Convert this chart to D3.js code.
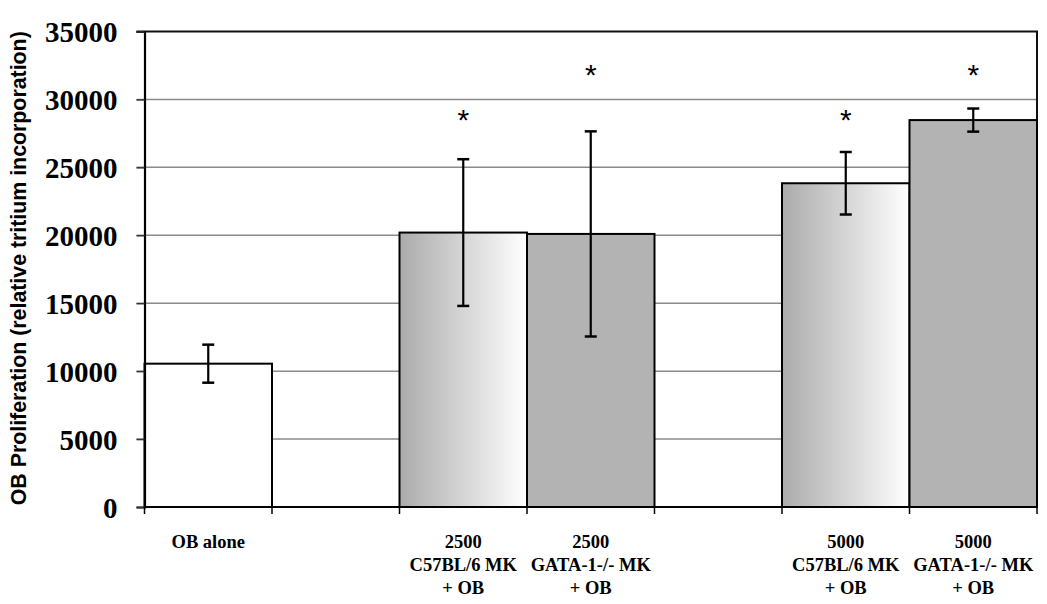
<!DOCTYPE html>
<html>
<head>
<meta charset="utf-8">
<script src="https://cdn.jsdelivr.net/npm/d3@7"></script>
<style>
  body { margin: 0; background: #fff; }
</style>
</head>
<body>
<div id="chart"></div>
<script>
// chart values
var categories = ["OB alone", "", "2500 C57", "2500 GATA", "", "5000 C57", "5000 GATA"];
var labelLines = [["OB alone"], [], ["2500", "C57BL/6 MK", "+ OB"], ["2500", "GATA-1-/- MK", "+ OB"], [],
                  ["5000", "C57BL/6 MK", "+ OB"], ["5000", "GATA-1-/- MK", "+ OB"]];
var means  = [10550, null, 20200, 20100, null, 23830, 28480];
var errors = [1400, null, 5400, 7550, null, 2300, 850];
var fills  = ["white", null, "grad", "gray", null, "grad", "gray"];
var stars  = [null, null, 28700, 32000, null, 28700, 32000];
var yTicks = [0, 5000, 10000, 15000, 20000, 25000, 30000, 35000];

var WIDTH = 1047, HEIGHT = 604;
// note: "top" is a reserved window property, so use plot* names
var plotLeft = 144.5, plotRight = 1037, plotTop = 31.5, plotBottom = 507;

var svg = d3.select("#chart").append("svg")
    .attr("width", WIDTH)
    .attr("height", HEIGHT);

var defs = svg.append("defs");
var grad = defs.append("linearGradient").attr("id", "barGrad")
    .attr("x1", "0%").attr("x2", "100%").attr("y1", "0%").attr("y2", "0%");
grad.append("stop").attr("offset", "0%").attr("stop-color", "#ababab");
grad.append("stop").attr("offset", "100%").attr("stop-color", "#ffffff");

var x = d3.scaleBand().domain(d3.range(categories.length)).range([plotLeft, plotRight]).padding(0);
var y = d3.scaleLinear().domain([0, 35000]).range([plotBottom, plotTop]);

// gridlines
svg.selectAll(".grid").data(yTicks.filter(function (d) { return d > 0 && d < 35000; }))
  .enter().append("line")
    .attr("x1", plotLeft - 8).attr("x2", plotRight)
    .attr("y1", function (d) { return y(d); }).attr("y2", function (d) { return y(d); })
    .attr("stroke", "#8a8a8a").attr("stroke-width", 1.5);

// top and right border
svg.append("path")
    .attr("d", "M" + (plotLeft - 8) + "," + plotTop + "H" + plotRight + "V" + plotBottom)
    .attr("fill", "none").attr("stroke", "#111").attr("stroke-width", 2);

// bars
var idx = d3.range(categories.length).filter(function (i) { return means[i] != null; });
svg.selectAll(".bar").data(idx).enter().append("rect")
    .attr("x", function (i) { return x(i); })
    .attr("width", x.bandwidth())
    .attr("y", function (i) { return y(means[i]); })
    .attr("height", function (i) { return y(0) - y(means[i]); })
    .attr("fill", function (i) {
        return fills[i] == "grad" ? "url(#barGrad)" : (fills[i] == "gray" ? "#b3b3b3" : "#fff");
    })
    .attr("stroke", "#000").attr("stroke-width", 2);

// error bars
var cx = function (i) { return x(i) + x.bandwidth() / 2; };
idx.forEach(function (i) {
    var g = svg.append("g").attr("stroke", "#000").attr("stroke-width", 2.2);
    g.append("line").attr("x1", cx(i)).attr("x2", cx(i))
        .attr("y1", y(means[i] + errors[i])).attr("y2", y(means[i] - errors[i]));
    [means[i] + errors[i], means[i] - errors[i]].forEach(function (v) {
        g.append("line").attr("x1", cx(i) - 6).attr("x2", cx(i) + 6)
            .attr("y1", y(v)).attr("y2", y(v)).attr("stroke-width", 2.5);
    });
});

// asterisks
svg.selectAll(".star").data(idx.filter(function (i) { return stars[i] != null; }))
  .enter().append("text")
    .attr("x", function (i) { return cx(i); })
    .attr("y", function (i) { return y(stars[i]) + 13; })
    .attr("text-anchor", "middle")
    .style("font-family", "'Liberation Sans', Arial, sans-serif")
    .style("font-size", "30px")
    .text("*");

// axes
var yAxis = svg.append("g").attr("transform", "translate(" + plotLeft + ",0)")
    .call(d3.axisLeft(y).tickValues(yTicks).tickSize(8).tickFormat(d3.format("d")));
yAxis.select(".domain").attr("stroke", "#000").attr("stroke-width", 2.2);
yAxis.selectAll(".tick line").attr("stroke", "#333").attr("stroke-width", 1.5);
yAxis.selectAll("text")
    .attr("x", -27).attr("dy", "0.36em")
    .style("font-family", "'Liberation Serif', 'Times New Roman', serif")
    .style("font-weight", "bold").style("font-size", "29px").attr("fill", "#000");

var xAxis = svg.append("g").attr("transform", "translate(0," + plotBottom + ")");
xAxis.append("line").attr("x1", plotLeft).attr("x2", plotRight)
    .attr("stroke", "#000").attr("stroke-width", 2.2);
xAxis.selectAll(".xt").data(d3.range(categories.length + 1)).enter().append("line")
    .attr("x1", function (i) { return plotLeft + i * x.bandwidth(); })
    .attr("x2", function (i) { return plotLeft + i * x.bandwidth(); })
    .attr("y1", 0).attr("y2", 7)
    .attr("stroke", "#000").attr("stroke-width", 1.5);

// category labels
d3.range(categories.length).forEach(function (i) {
    var t = svg.append("text")
        .attr("text-anchor", "middle")
        .style("font-family", "'Liberation Serif', 'Times New Roman', serif")
        .style("font-weight", "bold").style("font-size", "18.5px");
    labelLines[i].forEach(function (s, k) {
        t.append("tspan").attr("x", cx(i)).attr("y", 548 + k * 23).text(s);
    });
});

// y axis title
svg.append("text")
    .attr("transform", "translate(26," + ((plotTop + plotBottom) / 2 - 1) + ") rotate(-90)")
    .attr("text-anchor", "middle")
    .attr("textLength", 474).attr("lengthAdjust", "spacingAndGlyphs")
    .style("font-family", "'Liberation Sans', Arial, sans-serif")
    .style("font-weight", "bold").style("font-size", "22px")
    .text("OB Proliferation (relative tritium incorporation)");
</script>
</body>
</html>
